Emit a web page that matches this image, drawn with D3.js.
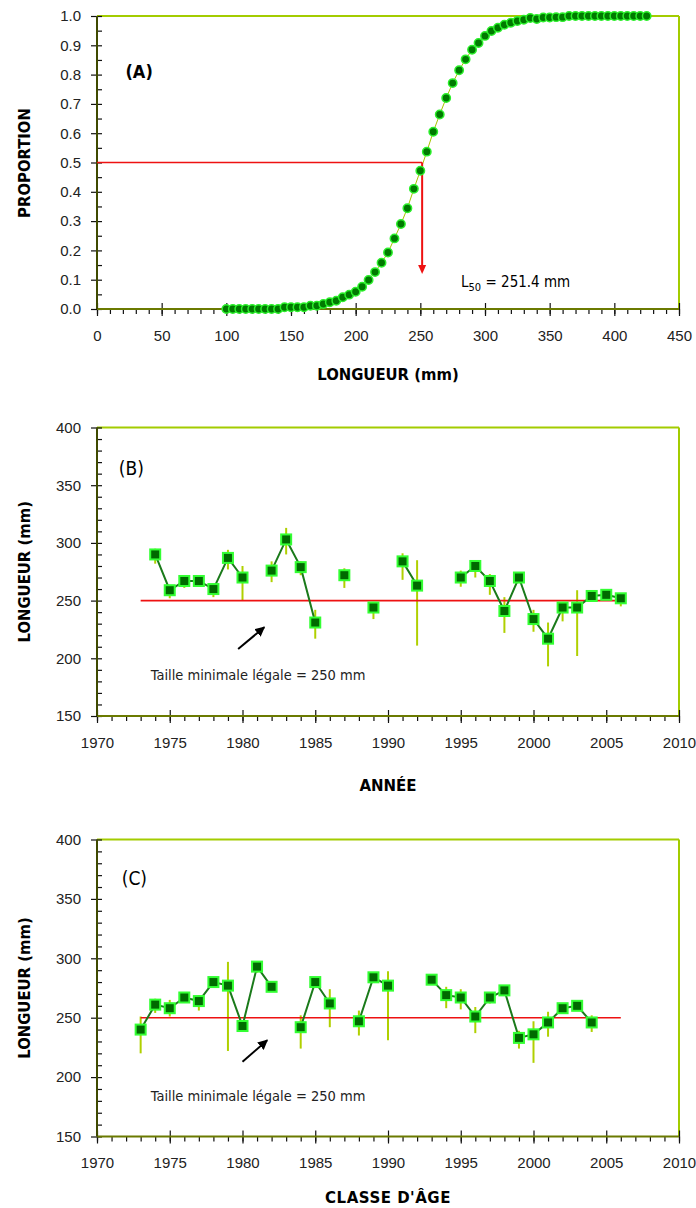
<!DOCTYPE html>
<html>
<head>
<meta charset="utf-8">
<style>
    body { margin: 0; background: white; }
    svg { display: block; font-family: 'DejaVu Sans Condensed', 'Liberation Sans Narrow', 'Arial Narrow', sans-serif; font-stretch: condensed; }
    .tick text { font-size: 15px; fill: #222; }
    .domain { display: none; }
</style>
</head>
<body>
<svg width="696" height="1208"></svg>

<script src="https://d3js.org/d3.v7.min.js"></script>
<script>
    // panel A : proportion mature by length
    const lengthA = [100, 105, 110, 115, 120, 125, 130, 135, 140, 145, 150, 155, 160, 165, 170, 175, 180, 185,
        190, 195, 200, 205, 210, 215, 220, 225, 230, 235, 240, 245, 250, 255, 260, 265, 270, 275, 280, 285,
        290, 295, 300, 305, 310, 315, 320, 325, 330, 335, 340, 345, 350, 355, 360, 365, 370, 375, 380, 385,
        390, 395, 400, 405, 410, 415, 420, 425]
    const propA = [0, 0, 0, 0, 0, 0, 0, 0, 0, 0.006, 0.006, 0.006, 0.006, 0.011, 0.011, 0.017, 0.023, 0.028,
        0.04, 0.049, 0.059, 0.076, 0.099, 0.126, 0.158, 0.193, 0.241, 0.29, 0.344, 0.41, 0.472, 0.537, 0.605,
        0.664, 0.72, 0.771, 0.815, 0.852, 0.885, 0.908, 0.932, 0.949, 0.96, 0.97, 0.977, 0.983, 0.987, 0.993,
        0.99, 0.995, 0.995, 0.996, 0.996, 1, 1, 1, 1, 1, 1, 1, 1, 1, 1, 1, 1, 1]
    const l50 = 251.4

    // panel B : by year (null = no data)
    const yearB = [1974, 1975, 1976, 1977, 1978, 1979, 1980, 1981, 1982, 1983, 1984, 1985, 1986, 1987, 1988,
        1989, 1990, 1991, 1992, 1993, 1994, 1995, 1996, 1997, 1998, 1999, 2000, 2001, 2002, 2003, 2004, 2005, 2006]
    const valB = [290, 259, 267, 267, 260, 287, 270, null, 276, 303, 279, 231, null, 272, null,
        244, null, 284, 263, null, null, 270, 280, 267, 241, 270, 234, 217, 244, 244, 254, 255, 252]
    const lowB = [282, 252, 261, 263, 253, 277, 250, null, 266, 290, 272, 217, null, 261, null,
        234, null, 268, 211, null, null, 262, 270, 255, 222, 268, 223, 193, 232, 202, 251, 253, 245]
    const highB = [295, 263, 272, 271, 263, 294, 280, null, 284, 313, 284, 242, null, 278, null,
        248, null, 291, 285, null, null, 276, 285, 273, 253, 272, 242, 231, 247, 259, 256, 257, 256]

    // panel C : by year class
    const yearC = [1973, 1974, 1975, 1976, 1977, 1978, 1979, 1980, 1981, 1982, 1983, 1984, 1985, 1986, 1987,
        1988, 1989, 1990, 1991, 1992, 1993, 1994, 1995, 1996, 1997, 1998, 1999, 2000, 2001, 2002, 2003, 2004]
    const valC = [240, 261, 258, 267, 264, 280, 277, 243, 293, 276, null, 242, 280, 262, null,
        247, 284, 277, null, null, 282, 269, 267, 251, 267, 273, 233, 236, 246, 258, 260, 246]
    const lowC = [220, 254, 251, 264, 256, 276, 222, 240, 288, 272, null, 224, 277, 242, null,
        235, 281, 231, null, null, 280, 258, 257, 237, 262, 270, 224, 212, 234, 255, 257, 238]
    const highC = [251, 266, 265, 270, 269, 283, 297, 246, 295, 278, null, 252, 282, 274, null,
        256, 286, 289, null, null, 284, 276, 274, 259, 270, 275, 239, 247, 255, 261, 262, 252]

    const legalSize = 250
    const legalYears = [1973, 2006]
    const noteText = "Taille minimale légale = 250 mm"

    const svg = d3.select("svg")
    const left = 97, right = 679

    // draws the frame and the axes of one panel
    function frame(x, y, top, bottom, major, minor, yMajor, yMinor, fmt) {
        let g = svg.append("g")

        g.append("line").attr("x1", left).attr("x2", right).attr("y1", top).attr("y2", top)
            .style("stroke", "#a3cc00").style("stroke-width", 2)
        g.append("line").attr("x1", right).attr("x2", right).attr("y1", top).attr("y2", bottom)
            .style("stroke", "#a3cc00").style("stroke-width", 2)

        // x axis : minor ticks below, major ticks crossing
        g.append("g").attr("transform", "translate(0," + bottom + ")")
            .call(d3.axisBottom(x).tickValues(minor).tickSize(5).tickFormat(""))
        g.append("g").attr("transform", "translate(0," + bottom + ")")
            .call(d3.axisBottom(x).tickValues(major).tickSize(7).tickPadding(14).tickFormat(d3.format("d")))
        g.append("g").attr("transform", "translate(0," + bottom + ")")
            .call(d3.axisTop(x).tickValues(major).tickSize(6).tickFormat(""))

        // y axis : minor ticks inside, major ticks crossing
        g.append("g").attr("transform", "translate(" + left + ",0)")
            .call(d3.axisRight(y).tickValues(yMinor).tickSize(5).tickFormat(""))
        g.append("g").attr("transform", "translate(" + left + ",0)")
            .call(d3.axisLeft(y).tickValues(yMajor).tickSize(6).tickPadding(10).tickFormat(fmt))

        g.selectAll(".tick line").style("stroke", "#111").style("stroke-width", 1.2)

        g.append("line").attr("x1", left).attr("x2", right).attr("y1", bottom).attr("y2", bottom)
            .style("stroke", "#6b7a00").style("stroke-width", 2)
        g.append("line").attr("x1", left).attr("x2", left).attr("y1", top).attr("y2", bottom)
            .style("stroke", "#3f4a00").style("stroke-width", 2)
        return g
    }

    function yTitle(text, cy) {
        svg.append("text").attr("transform", "translate(30," + cy + ") rotate(-90)")
            .attr("text-anchor", "middle").style("font-size", "16.5px").style("font-weight", "bold")
            .text(text)
    }

    svg.append("defs").append("marker")
        .attr("id", "blk").attr("viewBox", "0 0 10 10").attr("refX", 9).attr("refY", 5)
        .attr("markerWidth", 5).attr("markerHeight", 5).attr("orient", "auto")
        .append("path").attr("d", "M0,0L10,5L0,10z").style("fill", "black")

    // ---------- panel A ----------
    let xA = d3.scaleLinear().domain([0, 450]).range([left, right])
    let yA = d3.scaleLinear().domain([0, 1]).range([309, 16])

    frame(xA, yA, 16, 309, d3.range(0, 451, 50), d3.range(0, 451, 10),
        d3.range(0, 1.01, 0.1), d3.range(0, 1.01, 0.05), d3.format(".1f"))

    let ptsA = lengthA.map((d, i) => ({ x: d, y: propA[i] }))

    svg.append("path").datum(ptsA)
        .attr("d", d3.line().x(d => xA(d.x)).y(d => yA(d.y)))
        .style("fill", "none").style("stroke", "#a8c400").style("stroke-width", 1)

    svg.append("line").attr("x1", xA(0)).attr("x2", xA(l50)).attr("y1", yA(0.5)).attr("y2", yA(0.5))
        .style("stroke", "#ee1111").style("stroke-width", 1.5)
    svg.append("line").attr("x1", xA(l50)).attr("x2", xA(l50)).attr("y1", yA(0.5)).attr("y2", yA(0.15))
        .style("stroke", "#ee1111").style("stroke-width", 2)
    svg.append("path")
        .attr("d", "M" + (xA(l50) - 4) + "," + yA(0.15) + "L" + (xA(l50) + 4) + "," + yA(0.15) +
            "L" + xA(l50) + "," + (yA(0.15) + 9) + "z")
        .style("fill", "#ee1111")

    svg.append("g").selectAll("circle").data(ptsA).join("circle")
        .attr("cx", d => xA(d.x)).attr("cy", d => yA(d.y)).attr("r", 4.2)
        .style("fill", "#007a00").style("stroke", "#2bf02b").style("stroke-width", 1.5)

    svg.append("text").attr("x", xA(22)).attr("y", yA(0.79))
        .style("font-size", "18px").style("font-weight", "bold").text("(A)")

    let l50Text = svg.append("text").attr("x", xA(281.5)).attr("y", yA(0.075)).style("font-size", "15px")
    l50Text.append("tspan").text("L")
    l50Text.append("tspan").attr("dy", 4).style("font-size", "11px").text("50")
    l50Text.append("tspan").attr("dy", -4).text(" = " + l50 + " mm")

    yTitle("PROPORTION", 163)
    svg.append("text").attr("x", (left + right) / 2).attr("y", 380).attr("text-anchor", "middle")
        .style("font-size", "16.5px").style("font-weight", "bold").text("LONGUEUR (mm)")

    // ---------- panels B and C ----------
    function yearPanel(years, vals, lows, highs, top, bottom, label, note, title, titleStyle, titleY) {
        let x = d3.scaleLinear().domain([1970, 2010]).range([left, right])
        let y = d3.scaleLinear().domain([150, 400]).range([bottom, top])

        frame(x, y, top, bottom, d3.range(1970, 2011, 5), d3.range(1970, 2011, 1),
            d3.range(150, 401, 50), d3.range(150, 401, 10), d3.format("d"))

        let pts = years.map((d, i) => ({ x: d, v: vals[i], lo: lows[i], hi: highs[i] }))
        let have = pts.filter(d => d.v != null)

        svg.append("g").selectAll("line").data(have).join("line")
            .attr("x1", d => x(d.x)).attr("x2", d => x(d.x))
            .attr("y1", d => y(d.lo)).attr("y2", d => y(d.hi))
            .style("stroke", "#b0d000").style("stroke-width", 2)

        svg.append("line").attr("x1", x(legalYears[0])).attr("x2", x(legalYears[1]))
            .attr("y1", y(legalSize)).attr("y2", y(legalSize))
            .style("stroke", "#ee1111").style("stroke-width", 1.6)

        svg.append("path").datum(pts)
            .attr("d", d3.line().defined(d => d.v != null).x(d => x(d.x)).y(d => y(d.v)))
            .style("fill", "none").style("stroke", "#1a7a1a").style("stroke-width", 2)

        svg.append("g").selectAll("rect").data(have).join("rect")
            .attr("x", d => x(d.x) - 5).attr("y", d => y(d.v) - 5)
            .attr("width", 10).attr("height", 10)
            .style("fill", "#006a00").style("stroke", "#33ff33").style("stroke-width", 2)

        svg.append("text").attr("x", x(label.x)).attr("y", y(label.y))
            .style("font-size", "19px").text(label.text)

        svg.append("line").attr("x1", x(note.ax1)).attr("y1", y(note.ay1))
            .attr("x2", x(note.ax2)).attr("y2", y(note.ay2))
            .attr("marker-end", "url(#blk)")
            .style("stroke", "black").style("stroke-width", 2)
        svg.append("text").attr("x", x(note.tx)).attr("y", y(note.ty))
            .style("font-size", "14.5px").style("fill", "#222").text(noteText)

        yTitle("LONGUEUR (mm)", (top + bottom) / 2)
        svg.append("text").attr("x", (left + right) / 2).attr("y", titleY).attr("text-anchor", "middle")
            .attr("style", titleStyle).text(title)
    }

    yearPanel(yearB, valB, lowB, highB, 427.5, 716, { x: 1971.5, y: 359, text: "(B)" },
        { ax1: 1979.7, ay1: 208, ax2: 1981.5, ay2: 227, tx: 1973.7, ty: 181 },
        "ANNÉE", "font-family: 'DejaVu Sans', sans-serif; font-stretch: normal; font-size: 15px; font-weight: bold", 791)

    yearPanel(yearC, valC, lowC, highC, 839.5, 1136.5, { x: 1971.7, y: 361.5, text: "(C)" },
        { ax1: 1980, ay1: 213, ax2: 1981.7, ay2: 231, tx: 1973.7, ty: 180 },
        "CLASSE D'ÂGE", "font-family: 'DejaVu Sans', sans-serif; font-stretch: normal; font-size: 15px; font-weight: bold; letter-spacing: 0.5px", 1203)
</script>
</body>
</html>
